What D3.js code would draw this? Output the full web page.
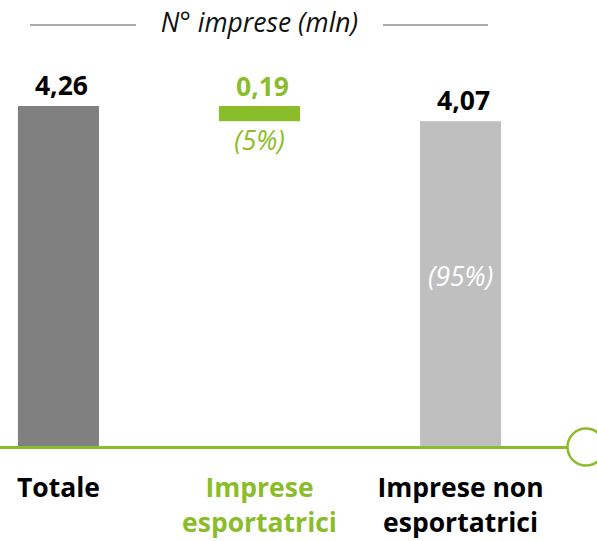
<!DOCTYPE html>
<html>
<head>
<meta charset="utf-8">
<script src="https://cdn.jsdelivr.net/npm/d3@7"></script>
<style>
  html, body { margin: 0; padding: 0; background: #fff; }
  svg { display: block; font-family: "Open Sans", "Noto Sans", sans-serif; }
</style>
</head>
<body>
<svg id="chart" width="597" height="541"></svg>
<script>
// Waterfall: total firms split into exporters and non-exporters (millions)
const categories = ["Totale", "Imprese esportatrici", "Imprese non esportatrici"];
const categoryLines = [["Totale"], ["Imprese", "esportatrici"], ["Imprese non", "esportatrici"]];
const values = [4.26, 0.19, 4.07];
const valueLabels = ["4,26", "0,19", "4,07"];
const shareLabels = ["", "(5%)", "(95%)"];
const title = "N° imprese (mln)";

const GREEN = "#8bbd2a";
const barColors = ["#808080", GREEN, "#bfbfbf"];
const labelColors = ["#000", GREEN, "#000"];
const FS = 26.5;

// Floating segments: the exporters bar sits on top of the non-exporters
const segments = [
  { lo: 0, hi: values[0] },
  { lo: values[2], hi: values[2] + values[1] },
  { lo: 0, hi: values[2] }
];

const svg = d3.select("#chart");

const x = d3.scaleBand().domain(categories).range([-42, 561]).paddingInner(0.597).paddingOuter(0.298);
const y = d3.scaleLinear().domain([0, 4.26]).range([447, 106]);

// Title with rules on both sides
const tcx = x(categories[1]) + x.bandwidth() / 2;
svg.append("line").attr("x1", 30).attr("x2", 136).attr("y1", 25).attr("y2", 25)
  .attr("stroke", "#8c8c8c").attr("stroke-width", 1.5);
svg.append("line").attr("x1", 383).attr("x2", 488).attr("y1", 25).attr("y2", 25)
  .attr("stroke", "#8c8c8c").attr("stroke-width", 1.5);
svg.append("text").attr("x", tcx).attr("y", 32).attr("text-anchor", "middle")
  .attr("font-style", "italic").attr("font-size", FS).attr("fill", "#111").text(title);

// Bars
svg.selectAll("rect.bar").data(categories).join("rect")
  .attr("class", "bar")
  .attr("x", d => x(d))
  .attr("width", x.bandwidth())
  .attr("y", (d, i) => y(segments[i].hi))
  .attr("height", (d, i) => y(segments[i].lo) - y(segments[i].hi))
  .attr("fill", (d, i) => barColors[i]);

// Value labels above each bar
svg.selectAll("text.val").data(categories).join("text")
  .attr("class", "val")
  .attr("x", d => x(d) + x.bandwidth() / 2 + 3)
  .attr("y", (d, i) => y(segments[i].hi) - (i === 1 ? 10 : 11.5))
  .attr("text-anchor", "middle")
  .attr("font-weight", 700).attr("font-size", FS)
  .attr("fill", (d, i) => labelColors[i])
  .text((d, i) => valueLabels[i]);

// Share labels
svg.append("text")
  .attr("x", x(categories[1]) + x.bandwidth() / 2)
  .attr("y", y(segments[1].lo) + 29)
  .attr("text-anchor", "middle").attr("font-style", "italic").attr("font-size", FS)
  .attr("fill", GREEN).text(shareLabels[1]);
svg.append("text")
  .attr("x", x(categories[2]) + x.bandwidth() / 2)
  .attr("y", 286)
  .attr("text-anchor", "middle").attr("font-style", "italic").attr("font-size", FS)
  .attr("fill", "#fff").text(shareLabels[2]);

// Baseline with ring at the end
svg.append("line").attr("x1", 0).attr("x2", 568).attr("y1", y(0) + 0.5).attr("y2", y(0) + 0.5)
  .attr("stroke", GREEN).attr("stroke-width", 2.8);
svg.append("circle").attr("cx", 586).attr("cy", y(0)).attr("r", 18.5)
  .attr("fill", "#fff").attr("stroke", GREEN).attr("stroke-width", 2.5);

// Category labels
const cat = svg.selectAll("text.cat").data(categories).join("text")
  .attr("class", "cat")
  .attr("x", d => x(d) + x.bandwidth() / 2)
  .attr("y", 497)
  .attr("text-anchor", "middle")
  .attr("font-weight", 700).attr("font-size", FS)
  .attr("fill", (d, i) => labelColors[i]);
cat.selectAll("tspan").data((d, i) => categoryLines[i]).join("tspan")
  .attr("x", function () { return this.parentNode.getAttribute("x"); })
  .attr("dy", (d, j) => j === 0 ? 0 : 35)
  .text(d => d);
</script>
</body>
</html>
